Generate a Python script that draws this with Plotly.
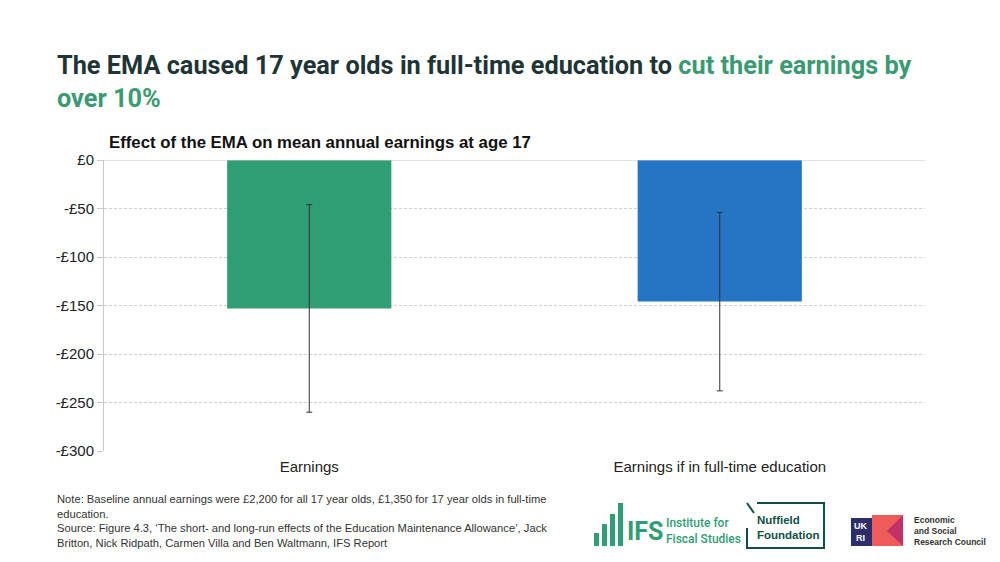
import plotly.graph_objects as go

categories = ["Earnings", "Earnings if in full-time education"]
effects = [-153, -146]
ci_half = [107, 92]
bar_colors = ["#2f9e74", "#2675c5"]
y_ticks = [0, -50, -100, -150, -200, -250, -300]
y_tick_labels = ["£0", "-£50", "-£100", "-£150", "-£200", "-£250", "-£300"]

W, H = 1000, 562
ML, MR, MT, MB = 104, 75, 160, 111
PW, PH = W - ML - MR, H - MT - MB

fig = go.Figure()
fig.add_trace(go.Bar(
    x=categories, y=effects, width=0.4,
    marker=dict(color=bar_colors, line=dict(width=0)),
    error_y=dict(type="data", array=ci_half, visible=True, color="#333333", thickness=1, width=3),
    showlegend=False,
))

fig.update_layout(
    width=W, height=H,
    paper_bgcolor="white", plot_bgcolor="white",
    margin=dict(l=ML, r=MR, t=MT, b=MB),
    font=dict(family="Arial, Liberation Sans", color="#222222", size=15),
    xaxis=dict(showgrid=False, showline=False, ticks="outside", ticklen=2, tickcolor="rgba(0,0,0,0)",
               tickfont=dict(size=15, color="#222")),
    yaxis=dict(range=[-300, 0], tickvals=y_ticks, ticktext=y_tick_labels,
               showgrid=True, gridcolor="#d0d0d0", griddash="3px,2px", gridwidth=1,
               zeroline=False, showline=True, linecolor="#c8c8c8", linewidth=1,
               ticks="outside", ticklen=6, tickcolor="#c8c8c8",
               tickfont=dict(size=15, color="#222")),
)

fig.add_shape(type="line", xref="paper", yref="y", x0=0, x1=1, y0=0, y1=0,
              line=dict(color="#c8c8c8", width=1))

def px(x): return (x - ML) / PW
def py(y): return (H - MB - y) / PH

TF = "Roboto, Liberation Sans, Arial"
# main title
fig.add_annotation(
    xref="paper", yref="paper", x=px(55), y=py(49), xanchor="left", yanchor="top", align="left",
    showarrow=False,
    text=("The EMA caused 17 year olds in full-time education to "
          "<span style='color:#3a9a72'>cut their earnings by</span><br>"
          "<span style='color:#3a9a72'>over 10%</span>"),
    font=dict(family=TF, size=25.3, color="#1f3535", weight=700),
)
# chart subtitle
fig.add_annotation(
    xref="paper", yref="paper", x=px(107), y=py(142), xanchor="left", yanchor="middle",
    showarrow=False, text="<b>Effect of the EMA on mean annual earnings at age 17</b>",
    font=dict(family="Arial, Liberation Sans", size=16.8, color="#111"),
)
# notes
fig.add_annotation(
    xref="paper", yref="paper", x=px(55), y=py(491), xanchor="left", yanchor="top", align="left",
    showarrow=False,
    text=("Note: Baseline annual earnings were £2,200 for all 17 year olds, £1,350 for 17 year olds in full-time<br>"
          "education.<br>"
          "Source: Figure 4.3, ‘The short- and long-run effects of the Education Maintenance Allowance’, Jack<br>"
          "Britton, Nick Ridpath, Carmen Villa and Ben Waltmann, IFS Report"),
    font=dict(family="Arial, Liberation Sans", size=11.2, color="#333"),
)

# logos (approximate)
green = "#2f9e74"
for (x0, y0) in [(594, 533), (602, 524), (610, 514), (618, 503)]:
    fig.add_shape(type="rect", xref="paper", yref="paper", x0=px(x0), x1=px(x0 + 5), y0=py(546), y1=py(y0),
                  fillcolor=green, line=dict(width=0))
fig.add_annotation(xref="paper", yref="paper", x=px(625), y=py(531), xanchor="left", yanchor="middle",
                   showarrow=False, text="<b>IFS</b>",
                   font=dict(family=TF, size=25, color=green, weight=900))
fig.add_annotation(xref="paper", yref="paper", x=px(664), y=py(531), xanchor="left", yanchor="middle",
                   showarrow=False, align="left",
                   text="Institute for<br>Fiscal Studies",
                   font=dict(family=TF, size=12, color=green, weight=500))
teal = "#0f4f48"
fig.add_shape(type="path", xref="paper", yref="paper",
              path=(f"M {px(757)},{py(503)} L {px(824)},{py(503)} L {px(824)},{py(548)} "
                    f"L {px(747)},{py(548)} L {px(747)},{py(528)}"),
              line=dict(color=teal, width=2))
fig.add_shape(type="line", xref="paper", yref="paper", x0=px(747), y0=py(503), x1=px(754), y1=py(513),
              line=dict(color=teal, width=2))
fig.add_annotation(xref="paper", yref="paper", x=px(755), y=py(527), xanchor="left", yanchor="middle",
                   showarrow=False, align="left", text="<b>Nuffield<br>Foundation</b>",
                   font=dict(family="Arial, Liberation Sans", size=11.5, color=teal))
fig.add_shape(type="rect", xref="paper", yref="paper", x0=px(851), x1=px(872), y0=py(546), y1=py(518),
              fillcolor="#2d2d6b", line=dict(width=0))
fig.add_shape(type="rect", xref="paper", yref="paper", x0=px(872), x1=px(903), y0=py(546), y1=py(515),
              fillcolor="#ef5a5a", line=dict(width=0))
fig.add_shape(type="path", xref="paper", yref="paper",
              path=f"M {px(903)},{py(515)} L {px(887)},{py(531)} L {px(903)},{py(546)} Z",
              fillcolor="#c2306a", line=dict(width=0))
fig.add_annotation(xref="paper", yref="paper", x=px(861), y=py(532), xanchor="center", yanchor="middle",
                   showarrow=False, text="<b>UK<br>RI</b>",
                   font=dict(family="Arial", size=9, color="white"))
fig.add_annotation(xref="paper", yref="paper", x=px(912), y=py(531), xanchor="left", yanchor="middle",
                   showarrow=False, align="left", text="<b>Economic<br>and Social<br>Research Council</b>",
                   font=dict(family="Arial, Liberation Sans", size=8.5, color="#333"))

fig.write_html("out.html")
